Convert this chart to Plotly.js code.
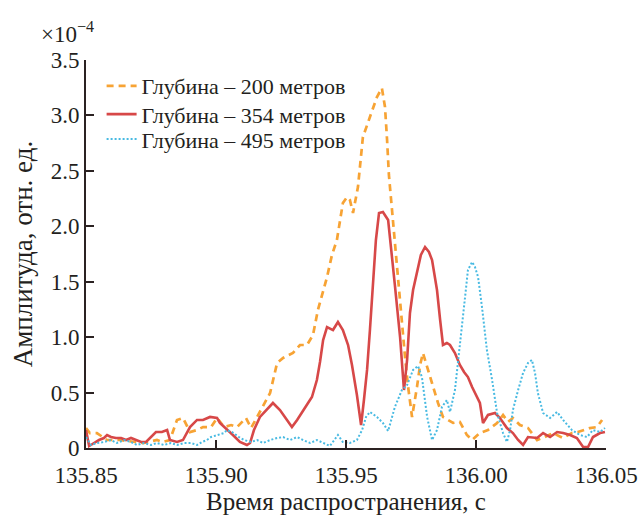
<!DOCTYPE html>
<html>
<head>
<meta charset="utf-8">
<script src="https://cdn.plot.ly/plotly-3.0.1.min.js"></script>
<style>
  html, body { margin: 0; padding: 0; background: #fff; }
  #chart { width: 644px; height: 515px; }
</style>
</head>
<body>
<div id="chart"></div>
<script>
// Propagation time, s, and amplitude (×10^-4 rel. units) for each depth
const t200 = [135.8500,135.8515,135.8542,135.8581,135.8631,135.8681,135.8719,135.8773,135.8796,135.8823,135.8850,135.8873,135.8900,135.8927,135.8950,135.8981,135.9004,135.9031,135.9058,135.9081,135.9115,135.9135,135.9158,135.9181,135.9208,135.9235,135.9258,135.9296,135.9323,135.9350,135.9373,135.9392,135.9408,135.9427,135.9446,135.9465,135.9488,135.9504,135.9515,135.9527,135.9546,135.9565,135.9592,135.9619,135.9638,135.9650,135.9658,135.9665,135.9677,135.9688,135.9700,135.9715,135.9727,135.9738,135.9746,135.9754,135.9773,135.9785,135.9796,135.9815,135.9835,135.9854,135.9873,135.9912,135.9938,135.9965,135.9985,136.0015,136.0046,136.0081,136.0104,136.0123,136.0142,136.0169,136.0200,136.0235,136.0265,136.0296,136.0335,136.0369,136.0392,136.0419,136.0438,136.0465,136.0485];
const a200 = [0.180,0.135,0.135,0.072,0.072,0.054,0.045,0.072,0.054,0.072,0.253,0.271,0.144,0.162,0.189,0.189,0.271,0.189,0.207,0.189,0.271,0.180,0.280,0.388,0.496,0.767,0.812,0.857,0.929,0.929,1.019,1.245,1.380,1.542,1.741,1.876,2.210,2.264,2.237,2.120,2.354,2.805,2.986,3.166,3.247,3.076,2.778,2.463,2.147,1.849,1.488,1.128,0.821,0.568,0.406,0.280,0.550,0.749,0.857,0.704,0.550,0.406,0.280,0.226,0.235,0.117,0.072,0.135,0.162,0.226,0.298,0.235,0.271,0.207,0.180,0.072,0.099,0.135,0.090,0.135,0.144,0.162,0.180,0.189,0.253];

const t354 = [135.8500,135.8512,135.8531,135.8550,135.8569,135.8581,135.8596,135.8615,135.8635,135.8654,135.8673,135.8692,135.8712,135.8731,135.8750,135.8769,135.8792,135.8812,135.8823,135.8850,135.8873,135.8888,135.8900,135.8927,135.8950,135.8977,135.9004,135.9015,135.9042,135.9065,135.9092,135.9119,135.9131,135.9146,135.9169,135.9196,135.9219,135.9246,135.9273,135.9292,135.9312,135.9335,135.9354,135.9369,135.9388,135.9400,135.9412,135.9427,135.9450,135.9469,135.9488,135.9508,135.9523,135.9542,135.9558,135.9569,135.9581,135.9592,135.9604,135.9615,135.9627,135.9642,135.9662,135.9673,135.9688,135.9708,135.9723,135.9735,135.9746,135.9758,135.9773,135.9788,135.9804,135.9819,135.9831,135.9850,135.9862,135.9873,135.9888,135.9900,135.9919,135.9938,135.9954,135.9969,135.9985,136.0004,136.0015,136.0027,136.0046,136.0073,136.0092,136.0119,136.0142,136.0162,136.0181,136.0200,136.0235,136.0258,136.0285,136.0312,136.0335,136.0362,136.0388,136.0412,136.0431,136.0450,136.0477,136.0496];
const a354 = [0.162,0.018,0.045,0.072,0.090,0.117,0.099,0.090,0.090,0.072,0.090,0.072,0.054,0.054,0.099,0.144,0.144,0.162,0.072,0.054,0.072,0.135,0.189,0.253,0.253,0.280,0.271,0.226,0.162,0.117,0.054,0.027,0.045,0.162,0.280,0.343,0.406,0.343,0.253,0.189,0.253,0.343,0.406,0.460,0.613,0.776,0.974,1.091,1.064,1.137,1.064,0.929,0.749,0.478,0.207,0.433,0.704,1.064,1.452,1.876,2.120,2.129,2.057,1.786,1.470,1.001,0.523,0.794,1.218,1.425,1.579,1.741,1.813,1.768,1.696,1.425,1.155,0.929,0.947,0.929,0.857,0.749,0.686,0.640,0.550,0.451,0.406,0.226,0.298,0.316,0.271,0.180,0.135,0.072,0.027,0.099,0.090,0.135,0.099,0.144,0.135,0.117,0.090,0.009,0.009,0.099,0.135,0.144];

const t495 = [135.8500,135.8519,135.8542,135.8569,135.8596,135.8619,135.8646,135.8673,135.8696,135.8723,135.8750,135.8773,135.8800,135.8827,135.8850,135.8877,135.8904,135.8927,135.8946,135.8965,135.8981,135.9004,135.9031,135.9042,135.9062,135.9088,135.9108,135.9135,135.9158,135.9181,135.9208,135.9235,135.9258,135.9285,135.9312,135.9335,135.9362,135.9388,135.9412,135.9438,135.9469,135.9488,135.9515,135.9542,135.9562,135.9577,135.9592,135.9619,135.9642,135.9662,135.9688,135.9715,135.9735,135.9758,135.9777,135.9792,135.9812,135.9831,135.9850,135.9869,135.9888,135.9900,135.9919,135.9931,135.9946,135.9958,135.9969,135.9985,135.9996,136.0008,136.0023,136.0042,136.0062,136.0081,136.0104,136.0119,136.0131,136.0142,136.0162,136.0181,136.0200,136.0215,136.0227,136.0238,136.0258,136.0285,136.0312,136.0335,136.0369,136.0400,136.0427,136.0450,136.0477,136.0496];
const a495 = [0.099,0.027,0.045,0.054,0.072,0.045,0.072,0.054,0.027,0.045,0.027,0.045,0.027,0.045,0.027,0.045,0.045,0.027,0.054,0.072,0.099,0.117,0.135,0.162,0.144,0.099,0.072,0.054,0.072,0.045,0.072,0.090,0.099,0.072,0.099,0.072,0.045,0.072,0.045,0.018,0.117,0.054,0.045,0.072,0.162,0.280,0.325,0.280,0.226,0.153,0.370,0.523,0.568,0.704,0.740,0.640,0.280,0.072,0.162,0.370,0.433,0.325,0.523,0.767,1.064,1.362,1.606,1.678,1.633,1.542,1.272,0.884,0.613,0.316,0.135,0.054,0.162,0.343,0.523,0.677,0.767,0.794,0.677,0.496,0.316,0.271,0.325,0.253,0.162,0.117,0.099,0.162,0.144,0.180];

const seriesNames = ["Глубина – 200 метров", "Глубина – 354 метров", "Глубина – 495 метров"];
const xTickVals = [135.85, 135.90, 135.95, 136.00, 136.05];
const xTickText = ["135.85", "135.90", "135.95", "136.00", "136.05"];
const yTickVals = [0, 0.5, 1.0, 1.5, 2.0, 2.5, 3.0, 3.5];
const yTickText = ["0", "0.5", "1.0", "1.5", "2.0", "2.5", "3.0", "3.5"];

const axisColor = "#2b2222";
const textColor = "#231f20";
const serif = "'Liberation Serif', 'Times New Roman', serif";

const traces = [
  { x: t200, y: a200, name: seriesNames[0], type: "scatter", mode: "lines", legend: "legend",
    line: { color: "rgb(247,163,52)", width: 2.7, dash: "7px,5px" } },
  { x: t354, y: a354, name: seriesNames[1], type: "scatter", mode: "lines", legend: "legend2",
    line: { color: "rgb(215,72,72)", width: 2.6 } },
  { x: t495, y: a495, name: seriesNames[2], type: "scatter", mode: "lines", legend: "legend3",
    line: { color: "rgb(72,186,226)", width: 2, dash: "2px,2px" } }
];

function legendAt(yTop) {
  return {
    x: 0.03, y: yTop, xanchor: "left", yanchor: "top",
    bgcolor: "rgba(0,0,0,0)", borderwidth: 0,
    font: { family: serif, size: 22, color: textColor }
  };
}

const layout = {
  width: 644, height: 515,
  margin: { l: 86, r: 38, t: 60, b: 67 },
  paper_bgcolor: "#fff", plot_bgcolor: "#fff",
  font: { family: serif, color: textColor },
  showlegend: true,
  legend: legendAt(0.987),
  legend2: legendAt(0.914),
  legend3: legendAt(0.850),
  xaxis: {
    range: [135.85, 136.05],
    tickvals: xTickVals, ticktext: xTickText,
    ticks: "inside", ticklen: 8, tickwidth: 2, tickcolor: axisColor,
    showline: true, linecolor: axisColor, linewidth: 2,
    showgrid: false, zeroline: false,
    ticklabelstandoff: 5,
    tickfont: { family: serif, size: 23, color: textColor },
    title: { text: "Время распространения, с", font: { family: serif, size: 25, color: textColor }, standoff: 4 },
    automargin: false
  },
  yaxis: {
    range: [0, 3.5],
    tickvals: yTickVals, ticktext: yTickText,
    ticks: "inside", ticklen: 8, tickwidth: 2, tickcolor: axisColor,
    showline: true, linecolor: axisColor, linewidth: 2,
    showgrid: false, zeroline: false,
    tickfont: { family: serif, size: 23, color: textColor },
    title: { text: "Амплитуда, отн. ед.", font: { family: serif, size: 27, color: textColor }, standoff: 10 },
    automargin: false
  },
  annotations: [
    { xref: "paper", yref: "paper", x: -0.09, y: 1.028, xanchor: "left", yanchor: "bottom",
      text: "×10<sup>−4</sup>", showarrow: false,
      font: { family: serif, size: 23, color: textColor } }
  ]
};

Plotly.newPlot("chart", traces, layout, { displayModeBar: false, staticPlot: true });
</script>
</body>
</html>
